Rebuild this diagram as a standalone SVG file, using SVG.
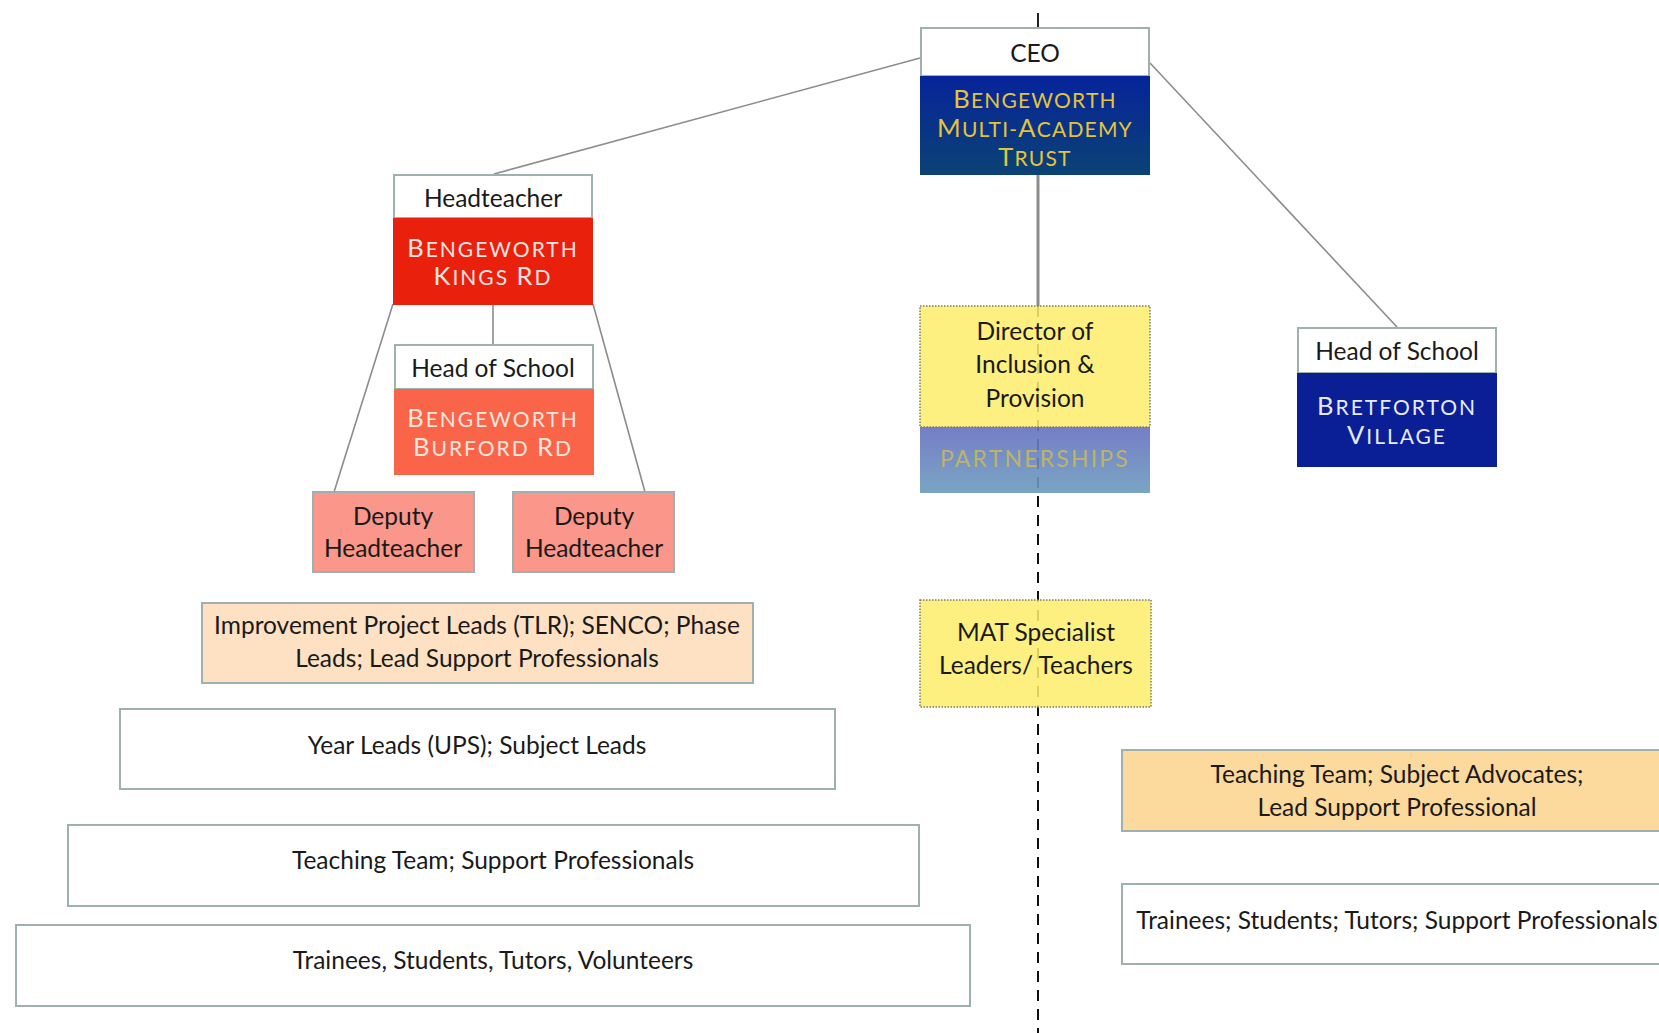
<svg xmlns="http://www.w3.org/2000/svg" width="1659" height="1033" viewBox="0 0 1659 1033">
<defs>
<linearGradient id="gCeo" x1="0" y1="0" x2="0" y2="1"><stop offset="0" stop-color="#06249a"/><stop offset="1" stop-color="#0b4274"/></linearGradient>
<linearGradient id="gPart" x1="0" y1="0" x2="0" y2="1"><stop offset="0" stop-color="#6670c0"/><stop offset="1" stop-color="#6a9cbc"/></linearGradient>
<style>
.bx{stroke:#9fb0b0;stroke-width:2}
.t{font-family:Lato,"Liberation Sans",sans-serif;font-size:24.5px;fill:#1a1a1a;text-anchor:middle}
.sc{font-family:Lato,"Liberation Sans",sans-serif;font-size:21px;text-anchor:middle;letter-spacing:2px}
.big{font-size:25.5px}
.con{stroke:#8c8c8c;stroke-width:1.6;fill:none}
.dot{stroke:#777;stroke-width:1.5;stroke-dasharray:1.5 1.5}
</style>
</defs>
<rect width="1659" height="1033" fill="#fff"/>
<g id="connectors">
<line x1="1038" y1="13" x2="1038" y2="27" stroke="#222" stroke-width="2"/>
<line x1="1038" y1="175" x2="1038" y2="306" stroke="#8c8c8c" stroke-width="3"/>
<line x1="1038" y1="306" x2="1038" y2="1033" stroke="#111" stroke-width="2" stroke-dasharray="11 8"/>
<line class="con" x1="920" y1="58" x2="494" y2="174"/>
<line class="con" x1="1150" y1="63" x2="1397" y2="327"/>
<line class="con" x1="393" y1="304" x2="334" y2="492"/>
<line class="con" x1="593" y1="304" x2="645" y2="492"/>
<line class="con" x1="493" y1="304" x2="493" y2="344"/>
</g>
<g id="ceo">
<rect x="921" y="28" width="228" height="48" fill="#fff" class="bx"/>
<rect x="920" y="76" width="230" height="99" fill="url(#gCeo)"/>
<text class="t" x="1035" y="62">CEO</text>
<text class="sc" x="1035" y="108" fill="#e3c43c" style="letter-spacing:1.2px"><tspan class="big">B</tspan>ENGEWORTH</text>
<text class="sc" x="1035" y="137" fill="#e3c43c" style="letter-spacing:1.2px"><tspan class="big">M</tspan>ULTI-<tspan class="big">A</tspan>CADEMY</text>
<text class="sc" x="1035" y="166" fill="#e3c43c" style="letter-spacing:1.2px"><tspan class="big">T</tspan>RUST</text>
</g>
<g id="kings">
<rect x="394" y="175" width="198" height="43" fill="#fff" class="bx"/>
<rect x="393" y="218" width="200" height="87" fill="#e8200c"/>
<text class="t" x="493" y="207">Headteacher</text>
<text class="sc" x="493" y="257" fill="#fbe4e0"><tspan class="big">B</tspan>ENGEWORTH</text>
<text class="sc" x="493" y="285" fill="#fbe4e0"><tspan class="big">K</tspan>INGS <tspan class="big">R</tspan>D</text>
</g>
<g id="burford">
<rect x="395" y="345" width="198" height="44" fill="#fff" class="bx"/>
<rect x="394" y="389" width="200" height="86" fill="#fa6449"/>
<text class="t" x="493" y="377">Head of School</text>
<text class="sc" x="493" y="427" fill="#fde6de"><tspan class="big">B</tspan>ENGEWORTH</text>
<text class="sc" x="493" y="456" fill="#fde6de"><tspan class="big">B</tspan>URFORD <tspan class="big">R</tspan>D</text>
</g>
<g id="deputy1">
<rect x="313" y="492" width="161" height="80" fill="#fa968a" class="bx"/>
<text class="t" x="393" y="525">Deputy</text>
<text class="t" x="393" y="557">Headteacher</text>
</g>
<g id="deputy2">
<rect x="513" y="492" width="161" height="80" fill="#fa968a" class="bx"/>
<text class="t" x="594" y="525">Deputy</text>
<text class="t" x="594" y="557">Headteacher</text>
</g>
<g id="director">
<rect x="920" y="306" width="230" height="121" fill="#fdee6c" fill-opacity="0.86"/>
<rect x="920" y="427" width="230" height="66" fill="url(#gPart)" fill-opacity="0.9"/>
<rect x="920" y="306" width="230" height="121" fill="none" class="dot"/>
<text class="t" x="1035" y="340">Director of</text>
<text class="t" x="1035" y="373">Inclusion &amp;</text>
<text class="t" x="1035" y="407">Provision</text>
<text class="sc" x="1035" y="467" fill="#bcb46c" style="font-size:23px;letter-spacing:2.2px">PARTNERSHIPS</text>
</g>
<g id="bretforton">
<rect x="1298" y="328" width="198" height="45" fill="#fff" class="bx"/>
<rect x="1297" y="373" width="200" height="94" fill="#0a1e96"/>
<text class="t" x="1397" y="360">Head of School</text>
<text class="sc" x="1397" y="415" fill="#e6eaf6"><tspan class="big">B</tspan>RETFORTON</text>
<text class="sc" x="1397" y="444" fill="#e6eaf6"><tspan class="big">V</tspan>ILLAGE</text>
</g>
<g id="mat">
<rect x="920" y="600" width="231" height="107" fill="#fdee6c" fill-opacity="0.86" class="dot"/>
<text class="t" x="1036" y="641">MAT Specialist</text>
<text class="t" x="1036" y="674">Leaders/ Teachers</text>
</g>
<g id="improvement">
<rect x="202" y="603" width="551" height="80" fill="#fde1c2" class="bx"/>
<text class="t" x="477" y="634">Improvement Project Leads (TLR); SENCO; Phase</text>
<text class="t" x="477" y="667">Leads; Lead Support Professionals</text>
</g>
<g id="yearleads">
<rect x="120" y="709" width="715" height="80" fill="#fff" class="bx"/>
<text class="t" x="477" y="754">Year Leads (UPS); Subject Leads</text>
</g>
<g id="teaching-left">
<rect x="68" y="825" width="851" height="81" fill="#fff" class="bx"/>
<text class="t" x="493" y="869">Teaching Team; Support Professionals</text>
</g>
<g id="trainees-left">
<rect x="16" y="925" width="954" height="81" fill="#fff" class="bx"/>
<text class="t" x="493" y="969">Trainees, Students, Tutors, Volunteers</text>
</g>
<g id="teaching-right">
<rect x="1122" y="750" width="560" height="81" fill="#fcd99c" class="bx"/>
<text class="t" x="1397" y="783">Teaching Team; Subject Advocates;</text>
<text class="t" x="1397" y="816">Lead Support Professional</text>
</g>
<g id="trainees-right">
<rect x="1122" y="884" width="560" height="80" fill="#fff" class="bx"/>
<text class="t" x="1397" y="929">Trainees; Students; Tutors; Support Professionals</text>
</g>
</svg>
